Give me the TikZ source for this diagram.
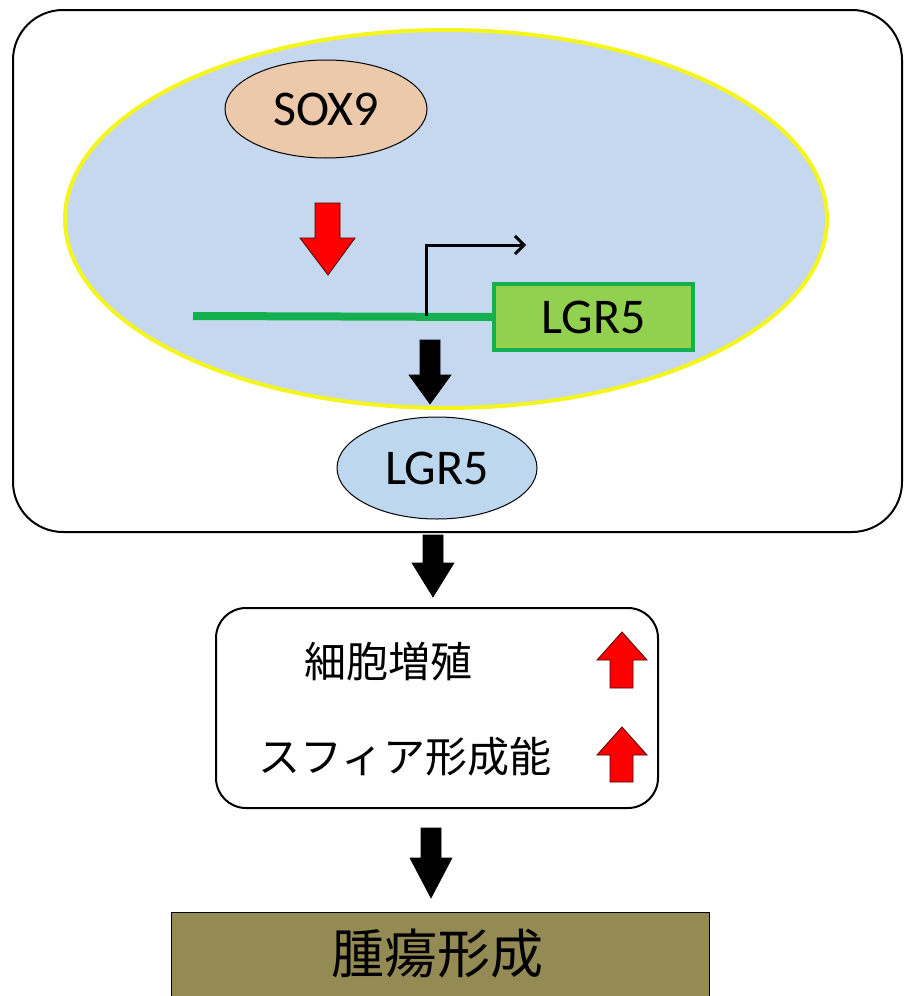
\documentclass[tikz,border=0pt]{standalone}
\usepackage{fontspec}
\setmainfont{Carlito}
\newfontfamily\jpfont{Noto Sans CJK JP}
\usepackage{tikz}
\usetikzlibrary{shapes.geometric,arrows.meta}

\definecolor{nucblue}{RGB}{198,216,239}
\definecolor{nucyellow}{RGB}{245,245,30}
\definecolor{soxpeach}{RGB}{237,201,172}
\definecolor{protblue}{RGB}{189,215,238}
\definecolor{genegreen}{RGB}{146,208,80}
\definecolor{dnagreen}{RGB}{20,176,80}
\definecolor{olive}{RGB}{148,138,84}

\tikzset{
  latin/.style={font=\fontsize{50}{50}\selectfont},
  jp/.style={font=\jpfont\fontsize{42}{42}\selectfont},
  blockblack/.style={fill=black,draw=black,line width=0.6pt},
  blockred/.style={fill=red,draw=black!70!red,line width=0.8pt}
}

\begin{document}
\begin{tikzpicture}[x=1pt,y=-1pt]
\useasboundingbox (0,0) rectangle (904,996);

% cell and nucleus
\node[draw,line width=2pt,rounded corners=50pt,minimum width=889pt,minimum height=522pt] (cell) at (457.5,271) {};
\node[ellipse,draw=nucyellow,fill=nucblue,line width=4pt,minimum width=762pt,minimum height=378pt] (nucleus) at (446,219) {};

\node[ellipse,draw,fill=soxpeach,line width=1pt,minimum width=202pt,minimum height=98pt,latin] (sox) at (326,109) {SOX9};
\draw[blockred] (315,203) -- (340,203) -- (340,238) -- (355,238) -- (328,275) -- (300,238) -- (315,238) -- cycle;

% gene
\node[draw=dnagreen,fill=genegreen,line width=4pt,minimum width=199pt,minimum height=66pt,latin] (gene) at (593.5,317) {LGR5};
\coordinate (dnastart) at (193,316);
\coordinate (tss) at (426,316);
\coordinate (tssend) at (526,245);
\draw[dnagreen,line width=8pt] (dnastart) -- (gene.west);
\draw[line width=3pt,-{Straight Barb[length=9pt,width=18pt]}] (tss) |- (tssend);

\draw[blockblack] (420,340) -- (440,340) -- (440,375) -- (451,375) -- (430,404) -- (409,375) -- (420,375) -- cycle;
\node[ellipse,draw,fill=protblue,line width=1pt,minimum width=200pt,minimum height=102pt,latin] (prot) at (437,468) {LGR5};

\draw[blockblack] (423,535) -- (443,535) -- (443,563) -- (454,563) -- (433,597) -- (412,563) -- (423,563) -- cycle;

% phenotype box
\node[draw,line width=2pt,rounded corners=30pt,minimum width=442pt,minimum height=200pt] (pheno) at (437,708) {};
\node[jp] (prolif) at (388,662) {細胞増殖};
\node[jp] (sphere) at (405,757) {スフィア形成能};
\draw[blockred] (622,632) -- (647,660) -- (633,660) -- (633,688) -- (610,688) -- (610,660) -- (597,660) -- cycle;
\draw[blockred] (622,727) -- (647,755) -- (633,755) -- (633,782) -- (610,782) -- (610,755) -- (597,755) -- cycle;

\draw[blockblack] (421,828) -- (441,828) -- (441,858) -- (452,858) -- (431,898) -- (410,858) -- (421,858) -- cycle;

% tumour box
\node[draw,fill=olive,line width=1pt,minimum width=538pt,minimum height=100pt,anchor=north] (tumor) at (440,912) {};
\node[jp,font=\jpfont\fontsize{53}{53}\selectfont] (tumortext) at (437,954) {腫瘍形成};
\end{tikzpicture}
\end{document}
